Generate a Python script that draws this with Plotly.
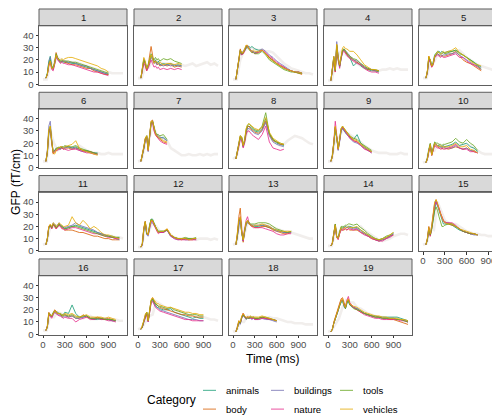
import plotly.graph_objects as go

W, H = 500, 415

# ---------------- data ----------------
CATEGORIES = ["animals", "body", "buildings", "nature", "tools", "vehicles"]
COLORS = ["#1B9E77", "#D95F02", "#7570B3", "#E7298A", "#66A61E", "#E6AB02"]
PANEL_LABELS = [str(i) for i in range(1, 20)]
X_TICKS = [0, 300, 600, 900]
Y_TICKS = [0, 10, 20, 30, 40]

# time (ms) of the category series samples
TIME = [40, 60, 80, 100, 120, 140, 160, 180, 200, 220, 240, 260, 280, 300,
        350, 400, 450, 500, 550, 600, 650, 700, 750, 800, 850, 900, 950, 1000, 1050, 1100]
# time (ms) of the faint full-length series
FAINT_TIME = [0, 50, 100, 150, 200, 250, 300, 350, 400, 450, 500, 550, 600,
              650, 700, 750, 800, 850, 900, 950, 1000, 1050, 1100]

GFP_01 = dict(
    animals=[5,9,19,23,15,13,17,22,21,19,18,19,18,18,18,17,17,16,15,14,13,12,11,10,9,8],
    body=[5,8,16,19,13,12,18,26,22,20,18,19,19,18,17,16,16,15,14,13,13,11,10,9,8,8],
    buildings=[5,8,18,22,14,12,17,24,21,19,19,18,19,19,18,18,17,16,15,15,13,12,11,10,9,9],
    nature=[5,8,15,18,12,11,16,23,20,18,17,18,17,17,16,16,15,14,13,12,11,10,10,9,8,7],
    tools=[5,9,17,20,14,14,18,25,22,20,19,20,19,19,19,18,18,17,16,15,14,13,12,11,10,9],
    vehicles=[5,8,16,19,13,13,17,24,21,20,20,21,20,21,22,22,21,20,19,18,17,16,15,13,12,10],
)
GFP_02 = dict(
    animals=[5,12,20,17,12,15,20,23,21,18,20,17,19,16,17,16,17,15,16,15],
    body=[5,11,19,16,11,16,24,31,24,18,19,16,17,15,16,15,16,14,15,14],
    buildings=[5,12,21,18,13,14,19,22,20,17,18,16,17,16,15,16,15,16,15,15],
    nature=[5,10,17,15,11,13,17,20,17,14,15,13,14,12,13,12,13,12,13,12],
    tools=[5,11,20,18,13,16,21,25,22,20,22,20,21,19,21,20,21,19,18,17],
    vehicles=[5,12,22,19,13,15,20,24,21,17,19,18,17,18,16,17,17,16,17,16],
)
GFP_03 = dict(
    animals=[4,12,21,27,24,26,28,30,31,31,30,31,30,29,28,28,25,22,19,17,15,13,12,11,10,10,9],
    body=[4,13,23,29,25,25,28,32,31,29,28,27,27,26,26,28,25,22,20,17,15,14,12,11,10,9,8],
    buildings=[4,12,22,28,26,27,29,31,32,30,28,27,27,26,27,29,27,24,22,19,17,15,13,11,10,10,9],
    nature=[4,11,21,27,24,25,27,30,31,29,27,26,26,25,26,28,26,23,21,18,16,14,12,11,10,10,9],
    tools=[4,12,22,28,25,26,28,31,30,28,27,26,26,25,25,27,24,20,18,16,14,12,11,10,10,9,9],
    vehicles=[4,13,23,28,26,26,29,32,32,29,28,27,28,27,27,28,25,21,19,17,15,13,12,11,10,10,9],
)
GFP_04 = dict(
    animals=[3,12,21,11,31,20,14,21,27,28,26,25,23,22,15,18,15,13,12,11,11,10],
    body=[3,13,22,10,32,21,15,22,28,28,26,24,23,22,20,18,16,14,12,12,11,11],
    buildings=[3,12,23,12,35,23,15,21,27,29,27,26,25,23,20,19,17,14,13,12,11,11],
    nature=[3,11,20,10,30,20,13,21,26,27,25,23,22,21,19,17,16,13,11,10,10,9],
    tools=[3,12,22,11,32,22,15,22,28,29,27,26,24,23,21,20,17,15,13,12,12,11],
    vehicles=[3,13,23,12,33,22,16,23,30,31,29,29,28,27,27,24,20,16,14,12,12,11],
)
GFP_05 = dict(
    animals=[5,10,22,20,15,18,24,26,27,27,26,27,26,26,27,27,28,26,24,22,20,18,16,14],
    body=[5,11,23,19,14,16,22,24,25,24,23,24,23,23,24,25,27,23,20,18,17,15,13,11],
    buildings=[5,10,21,18,15,17,22,24,25,24,24,23,24,24,25,25,26,24,22,20,18,16,15,13],
    nature=[5,9,20,18,14,16,22,23,24,23,22,23,22,22,23,24,25,22,22,19,17,16,14,12],
    tools=[5,10,22,20,15,17,23,25,26,26,25,25,26,25,26,27,28,25,24,22,20,18,15,12],
    vehicles=[5,11,23,20,15,17,23,25,27,26,25,26,27,26,27,28,30,26,24,22,19,17,16,15],
)
GFP_06 = dict(
    animals=[5,12,28,31,20,12,14,15,16,16,15,17,16,17,17,16,17,15,14,14,13,12,12],
    body=[5,13,30,33,21,11,13,14,15,16,17,16,15,16,16,15,16,15,14,13,13,12,11],
    buildings=[5,14,34,38,23,13,14,15,16,15,16,17,16,16,17,16,16,14,13,13,12,12,11],
    nature=[5,12,29,32,21,12,13,14,14,15,15,16,15,15,14,15,15,14,13,12,12,11,11],
    tools=[5,12,30,34,22,13,14,16,16,17,16,17,17,18,17,17,18,16,15,14,13,12,11],
    vehicles=[5,13,31,34,22,12,11,14,16,16,17,17,16,17,18,19,22,16,14,13,12,11,10],
)
GFP_07 = dict(
    animals=[5,10,16,23,26,15,24,36,38,32,28,26,25,24,25,22],
    body=[5,10,17,24,26,14,26,38,39,32,27,25,24,23,21,20],
    buildings=[5,9,15,22,25,13,25,37,38,31,28,27,26,25,24,22],
    nature=[5,10,16,23,25,14,24,36,37,30,27,25,23,22,20,19],
    tools=[5,10,16,23,26,15,25,37,38,33,29,27,27,26,27,23],
    vehicles=[5,10,17,24,26,14,25,38,38,32,28,26,25,24,22,21],
)
GFP_08 = dict(
    animals=[7,12,19,25,24,17,23,31,34,34,33,32,31,30,29,32,40,28,23,20,19,18],
    body=[7,13,18,26,25,18,22,30,33,34,32,31,30,29,28,31,38,27,22,21,19,19],
    buildings=[7,12,18,24,23,17,21,29,32,32,31,30,29,28,27,30,37,26,21,19,18,17],
    nature=[7,11,17,23,22,16,20,27,30,30,28,27,26,25,23,27,34,21,16,15,14,15],
    tools=[7,12,19,26,25,18,22,31,35,36,34,33,32,31,30,34,45,28,23,21,20,19],
    vehicles=[7,12,19,26,24,18,23,32,35,36,35,34,33,32,31,33,41,29,24,22,20,19],
)
GFP_09 = dict(
    animals=[5,9,20,31,24,15,22,30,32,30,28,27,26,25,23,27,20,17,15,13],
    body=[5,10,21,33,25,15,23,31,33,31,29,28,27,25,22,21,19,16,14,13],
    buildings=[5,9,19,32,24,14,21,30,32,30,28,27,26,24,21,20,18,16,14,12],
    nature=[5,9,21,38,27,15,22,31,33,31,29,27,26,24,22,21,18,15,14,12],
    tools=[5,10,20,33,25,16,23,32,34,32,30,29,28,26,24,23,20,18,16,14],
    vehicles=[5,9,20,34,25,15,23,32,34,32,30,28,27,26,23,22,19,17,15,13],
)
GFP_10 = dict(
    animals=[4,7,14,19,11,16,20,19,18,18,17,17,18,17,18,19,21,18,19,20,17,16,13],
    body=[4,7,13,18,10,15,19,18,17,16,16,15,16,16,15,16,17,16,15,16,14,13,12],
    buildings=[4,7,14,19,10,15,20,19,18,17,17,16,17,16,16,16,18,16,15,16,14,14,12],
    nature=[4,7,13,18,10,14,18,17,16,16,15,16,15,15,16,17,19,16,15,15,13,13,12],
    tools=[4,8,15,20,11,17,21,20,20,19,19,18,19,19,20,21,24,21,20,23,20,18,14],
    vehicles=[4,7,14,19,10,16,20,19,18,17,18,17,17,17,17,18,20,17,17,18,15,14,12],
)
GFP_11 = dict(
    animals=[5,10,19,21,19,22,21,19,20,22,21,20,19,18,19,20,21,20,19,18,17,16,15,14,13,12,12,11,11],
    body=[5,10,20,21,18,21,20,18,20,21,20,19,18,17,17,17,16,15,15,14,13,12,12,11,10,10,9,9,9],
    buildings=[5,9,19,20,19,23,22,20,21,23,21,20,19,19,20,21,23,21,20,19,18,17,15,14,13,12,11,10,9],
    nature=[5,10,20,21,18,22,20,18,19,21,20,18,18,17,18,19,19,18,17,16,15,14,14,13,12,11,11,10,10],
    tools=[5,10,19,21,19,22,21,19,20,22,21,20,19,18,19,20,20,19,18,17,16,15,14,13,12,12,11,11,11],
    vehicles=[5,10,20,22,20,23,22,20,21,23,22,21,20,20,21,28,23,21,25,22,18,20,18,15,13,13,12,11,10],
)
GFP_12 = dict(
    animals=[3,5,17,23,14,13,21,26,26,23,20,17,16,16,16,17,12,11,10,10,10,10,10,10],
    body=[3,6,19,24,14,13,20,25,25,22,19,17,15,15,15,18,13,11,10,9,10,9,9,10],
    buildings=[3,5,17,22,13,12,18,23,23,21,19,16,15,15,15,17,12,10,9,10,9,9,10,9],
    nature=[3,5,18,24,15,13,19,24,24,21,19,16,14,15,15,17,12,10,9,9,9,9,9,9],
    tools=[3,6,18,24,14,14,21,26,25,22,20,18,16,16,16,17,13,11,10,10,11,10,10,11],
    vehicles=[3,6,18,24,15,13,20,25,25,22,19,17,15,16,16,18,13,11,10,10,10,9,10,10],
)
GFP_13 = dict(
    animals=[5,12,23,27,15,8,16,22,24,22,21,21,20,20,20,21,20,19,18,17,16,15,15,16],
    body=[5,14,28,35,18,7,16,22,24,22,21,20,20,19,19,20,20,19,17,16,15,14,14,15],
    buildings=[5,12,22,26,14,8,15,21,23,22,21,21,21,21,21,21,21,20,18,16,16,15,15,15],
    nature=[5,12,24,28,16,8,18,25,28,23,21,20,19,19,19,19,18,17,16,14,13,13,14,14],
    tools=[5,12,24,27,15,9,17,23,25,23,22,22,22,22,23,23,23,22,20,18,17,16,15,16],
    vehicles=[5,13,25,28,15,9,17,23,25,22,21,21,20,21,21,22,21,20,18,17,16,16,16,16],
)
GFP_14 = dict(
    animals=[4,6,14,21,11,10,15,19,19,19,20,19,20,20,19,19,17,15,13,11,10,9,10,11,12,14],
    body=[4,7,15,22,12,10,14,18,17,17,18,17,18,17,17,17,15,14,12,10,9,8,9,10,12,13],
    buildings=[4,6,14,21,11,10,15,18,18,19,20,19,19,19,18,18,16,14,12,11,9,8,9,10,12,14],
    nature=[4,6,13,20,11,9,14,17,17,18,18,17,18,18,17,18,15,13,12,10,9,8,8,10,11,13],
    tools=[4,6,14,22,12,11,16,20,20,20,21,21,22,22,21,22,19,17,14,12,10,9,10,12,13,15],
    vehicles=[4,6,14,21,11,10,15,19,18,19,19,19,20,19,19,20,17,15,13,11,10,9,10,11,13,15],
)
GFP_15 = dict(
    animals=[5,9,19,13,18,26,36,40,37,33,28,24,22,22,22,21,19,17,16,15,14,14,13],
    body=[5,10,20,12,19,29,39,42,39,35,31,27,25,24,22,21,20,18,16,15,14,14,13],
    buildings=[5,9,18,13,20,28,38,41,38,34,30,26,24,23,23,22,20,18,16,15,14,13,13],
    nature=[5,9,18,12,19,27,37,40,38,35,31,27,25,23,23,23,21,18,16,15,14,14,13],
    tools=[5,9,17,13,18,25,33,36,33,28,23,20,20,21,22,22,20,18,16,15,14,14,13],
    vehicles=[5,10,19,14,21,30,40,42,39,34,30,26,24,23,22,22,20,18,17,16,15,14,13],
)
GFP_16 = dict(
    animals=[3,6,17,15,15,18,19,18,18,17,17,16,16,18,17,24,17,14,14,15,13,12,12,13,12,12,11,11],
    body=[3,7,18,16,14,17,20,19,17,17,16,15,15,16,14,15,13,13,16,14,13,13,14,13,12,13,12,11],
    buildings=[3,6,16,15,14,16,18,17,16,16,15,14,14,15,14,15,13,13,14,15,13,13,13,12,13,12,11,11],
    nature=[3,6,16,14,13,16,18,17,16,15,15,14,13,14,13,13,10,12,13,14,12,12,13,12,12,11,11,10],
    tools=[3,6,17,16,15,17,19,18,17,17,16,15,15,16,15,16,14,14,15,15,13,13,13,13,12,12,12,11],
    vehicles=[3,6,17,16,15,17,19,18,17,17,17,16,16,17,16,17,15,14,15,16,14,14,14,14,13,14,13,12],
)
GFP_17 = dict(
    animals=[4,6,10,15,18,11,18,27,29,26,24,22,22,21,20,20,21,18,17,16,15,14,13,14,13,13],
    body=[4,6,11,16,18,11,19,28,30,27,25,24,23,22,21,20,19,18,17,16,16,15,15,14,14,14],
    buildings=[4,6,10,14,17,10,17,26,28,25,23,22,21,20,19,18,17,16,15,14,13,12,12,12,11,11],
    nature=[4,6,10,14,16,10,17,25,27,24,22,21,20,19,18,17,16,15,14,13,12,12,11,11,11,11],
    tools=[4,6,11,15,18,11,18,27,29,26,25,24,23,23,22,21,22,20,19,18,17,16,16,16,15,15],
    vehicles=[4,7,11,16,18,11,19,28,30,28,26,25,25,24,23,22,22,21,20,19,18,18,17,17,16,16],
)
GFP_18 = dict(
    animals=[2,5,10,9,14,16,14,13,14,13,14,13,13,13,13,14,13,12,12,11],
    body=[2,6,11,9,14,17,15,13,14,14,14,13,14,13,13,14,13,13,12,11],
    buildings=[2,5,9,8,13,15,14,12,13,13,13,12,13,12,12,13,12,12,11,10],
    nature=[2,5,10,9,14,17,14,13,14,13,13,13,13,12,12,13,13,12,12,11],
    tools=[2,5,10,9,14,16,14,13,13,13,14,14,14,13,13,14,14,13,12,11],
    vehicles=[2,5,11,10,15,17,15,14,14,14,15,14,14,14,14,15,14,13,12,11],
)
GFP_19 = dict(
    animals=[2,4,9,13,16,19,23,26,27,23,21,25,27,24,22,21,19,17,16,15,15,14,14,14,14,14,14,13,12,11],
    body=[2,4,10,14,17,21,26,29,30,25,22,27,29,25,22,20,18,17,16,15,14,14,13,13,12,12,11,10,9,8],
    buildings=[2,4,9,12,15,19,24,27,28,23,21,26,28,24,22,21,19,17,16,15,14,14,13,13,13,13,12,12,11,10],
    nature=[2,4,9,13,16,20,25,28,28,24,22,28,31,26,22,20,18,16,15,14,13,13,12,12,12,12,12,11,11,10],
    tools=[2,4,9,13,16,20,24,27,28,24,21,26,28,24,21,20,19,17,16,15,14,14,13,13,13,13,12,12,11,10],
    vehicles=[2,4,9,13,16,20,25,28,29,24,22,27,29,25,23,22,20,18,17,16,15,15,14,14,13,13,13,12,12,11],
)
PANELS = [GFP_01, GFP_02, GFP_03, GFP_04, GFP_05, GFP_06, GFP_07, GFP_08, GFP_09, GFP_10,
          GFP_11, GFP_12, GFP_13, GFP_14, GFP_15, GFP_16, GFP_17, GFP_18, GFP_19]

# faint full-length reference traces, one per panel
FAINT = [
    [4,4,15,18,22,20,19,18,18,18,17,16,15,14,13,12,11,10,10,9,9,9,9],
    [5,5,15,14,20,20,18,17,17,17,16,16,16,15,16,17,15,16,17,18,16,17,15],
    [4,4,20,27,30,30,29,28,28,27,27,26,23,20,17,15,13,12,11,10,9,9,8],
    [3,3,16,25,28,24,22,19,17,15,13,12,12,11,11,12,12,13,12,13,12,12,12],
    [5,5,18,18,24,25,25,26,26,27,28,25,22,20,18,16,15,14,13,12,13,12,12],
    [5,5,30,20,14,16,16,16,16,17,18,16,14,13,12,12,11,11,12,11,11,11,11],
    [5,6,20,22,35,28,25,23,22,16,14,12,10,10,11,10,10,11,10,11,10,11,11],
    [7,9,24,20,30,33,31,30,32,38,27,22,20,18,19,22,24,26,25,24,22,20,19],
    [5,5,24,24,31,29,27,25,23,21,18,16,14,13,12,12,12,11,11,11,12,11,11],
    [4,5,18,13,19,18,18,17,18,19,19,18,19,18,16,14,12,11,11,11,12,11,11],
    [5,6,20,20,21,20,19,19,20,21,20,19,18,17,16,15,14,13,12,12,11,11,10],
    [3,3,20,16,23,20,16,16,17,13,11,10,10,10,10,10,9,10,10,10,9,10,9],
    [5,6,26,12,23,21,20,20,20,21,20,19,18,17,16,16,15,14,13,12,11,10,10],
    [4,4,15,15,18,19,19,19,19,20,17,15,13,11,9,8,9,10,12,13,14,14,13],
    [5,6,18,17,40,32,25,23,22,22,20,18,16,15,14,14,13,13,12,12,11,11,11],
    [3,3,16,14,18,17,16,15,16,15,14,13,14,15,13,13,13,13,12,12,12,11,11],
    [4,5,10,15,16,27,25,23,21,20,20,19,18,17,16,15,15,14,14,13,12,12,11],
    [2,3,10,10,15,14,14,13,13,13,14,13,13,12,11,10,10,9,9,9,8,8,8],
    [2,3,8,13,22,28,26,26,22,21,19,17,16,15,14,14,13,13,13,13,12,11,10],
]

# ---------------- layout (pixels) ----------------
COL_L = [31, 126, 221, 316, 411]
PW = 88
ROW_T = [18, 102.3, 186.6, 271]
PH = 59.5
STRIP_H = 17
FONT = "Liberation Sans, Arial, sans-serif"
BORDER = "#5e5e5e"
TICK_SIZE = 9.6
TITLE_SIZE = 12


def px(x):
    return x / W


def py(y):
    return 1 - y / H


fig = go.Figure()
layout = dict(
    width=W, height=H, margin=dict(l=0, r=0, t=0, b=0),
    paper_bgcolor="white", plot_bgcolor="white", showlegend=False,
    font=dict(family=FONT, size=TICK_SIZE, color="#4d4d4d"),
)
shapes, annotations = [], []

for i, panel in enumerate(PANELS):
    r, c = divmod(i, 5)
    n = i + 1
    xa = "x" if n == 1 else f"x{n}"
    ya = "y" if n == 1 else f"y{n}"
    fig.add_trace(go.Scatter(
        x=FAINT_TIME, y=FAINT[i], mode="lines", xaxis=xa, yaxis=ya,
        line=dict(color="rgba(205,195,185,0.28)", width=2.6), hoverinfo="skip"))
    for cat, col in zip(CATEGORIES, COLORS):
        vals = panel[cat]
        fig.add_trace(go.Scatter(
            x=TIME[:len(vals)], y=vals, mode="lines", name=cat, xaxis=xa, yaxis=ya,
            line=dict(color=col, width=0.9), opacity=0.9))
    show_x = (r == 3) or (i == 14)
    show_y = (c == 0)
    x0, x1 = COL_L[c], COL_L[c] + PW
    y0, y1 = ROW_T[r], ROW_T[r] + PH
    layout[f"xaxis{n}"] = dict(
        domain=[px(x0), px(x1)], range=[-55, 1155], anchor=ya,
        showgrid=False, zeroline=False, showline=True, mirror=True,
        linecolor=BORDER, linewidth=1,
        tickvals=X_TICKS, ticktext=[str(v) for v in X_TICKS],
        ticks="outside" if show_x else "", ticklen=2.5, tickwidth=1, tickcolor="#333",
        ticklabelstandoff=-2,
        showticklabels=show_x, tickfont=dict(size=TICK_SIZE, color="#4d4d4d"),
        fixedrange=True)
    layout[f"yaxis{n}"] = dict(
        domain=[py(y1), py(y0)], range=[-0.3, 48], anchor=xa,
        showgrid=False, zeroline=False, showline=True, mirror=True,
        linecolor=BORDER, linewidth=1,
        tickvals=Y_TICKS, ticktext=[str(v) for v in Y_TICKS],
        ticks="outside" if show_y else "", ticklen=2.5, tickwidth=1, tickcolor="#333",
        showticklabels=show_y, tickfont=dict(size=TICK_SIZE, color="#4d4d4d"),
        fixedrange=True)
    # strip
    shapes.append(dict(type="rect", xref="paper", yref="paper",
                       x0=px(x0), x1=px(x1), y0=py(y0), y1=py(y0 - STRIP_H),
                       fillcolor="#d9d9d9", line=dict(color=BORDER, width=1), layer="below"))
    annotations.append(dict(text=PANEL_LABELS[i], xref="paper", yref="paper",
                            x=px((x0 + x1) / 2), y=py(y0 - STRIP_H / 2),
                            showarrow=False, font=dict(size=TICK_SIZE, color="#1a1a1a"),
                            xanchor="center", yanchor="middle"))

# axis titles
annotations.append(dict(text="Time (ms)", xref="paper", yref="paper", x=px(265), y=py(355),
                        showarrow=False, font=dict(size=TITLE_SIZE, color="black"),
                        xanchor="center", yanchor="middle"))
annotations.append(dict(text="GFP (fT/cm)", xref="paper", yref="paper", x=px(8), y=py(176),
                        showarrow=False, textangle=-90, font=dict(size=TITLE_SIZE, color="black"),
                        xanchor="center", yanchor="middle"))

# manual legend
annotations.append(dict(text="Category", xref="paper", yref="paper", x=px(137), y=py(397),
                        showarrow=False, font=dict(size=TITLE_SIZE, color="black"),
                        xanchor="left", yanchor="middle"))
KEY_X = [195, 263, 332]
KEY_Y = [387, 406]
for k, (cat, col) in enumerate(zip(CATEGORIES, COLORS)):
    cc, rr = divmod(k, 2)
    kx, ky = KEY_X[cc], KEY_Y[rr]
    shapes.append(dict(type="line", xref="paper", yref="paper",
                       x0=px(kx), x1=px(kx + 13), y0=py(ky), y1=py(ky),
                       line=dict(color=col, width=1), opacity=0.8))
    annotations.append(dict(text=cat, xref="paper", yref="paper", x=px(kx + 21), y=py(ky),
                            showarrow=False, font=dict(size=TICK_SIZE, color="black"),
                            xanchor="left", yanchor="middle"))

layout["shapes"] = shapes
layout["annotations"] = annotations
fig.update_layout(**layout)
fig.write_html("out.html")
